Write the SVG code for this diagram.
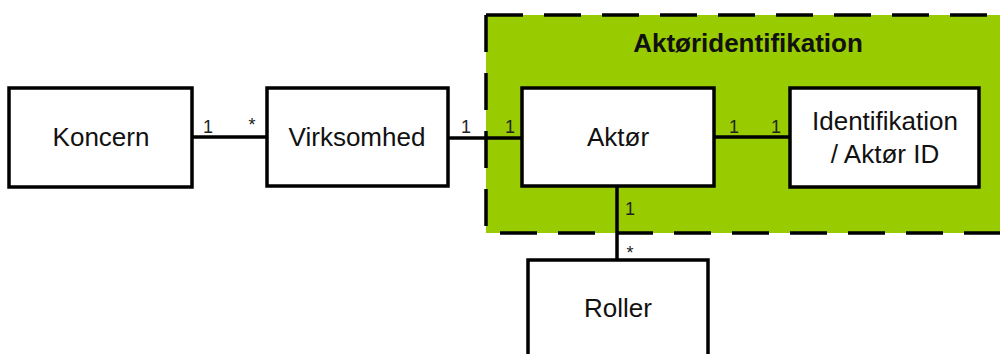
<svg xmlns="http://www.w3.org/2000/svg" width="1000" height="354" viewBox="0 0 1000 354">
<style>
.box{fill:#fff;stroke:#000;stroke-width:3.5}
.lbl{font-family:"Liberation Sans",Arial,sans-serif;font-size:26px;fill:#111;text-anchor:middle}
.m{font-family:"Liberation Sans",Arial,sans-serif;font-size:18px;fill:#222;text-anchor:middle}
.ln{stroke:#000;stroke-width:3.5;fill:none}
</style>
<rect width="1000" height="354" fill="#fff"/>
<g id="group-aktoridentifikation">
<rect x="486" y="15" width="520" height="218" fill="#99cc00"/>
<path d="M486,15 H1006 M486,15 V233 H1006" stroke="#000" stroke-width="3.5" fill="none" stroke-dasharray="37,21"/>
<text x="748" y="52" class="lbl" font-weight="bold">Aktøridentifikation</text>
</g>
<g id="connectors">
<line class="ln" x1="192" y1="137" x2="267" y2="137"/>
<line class="ln" x1="448" y1="138" x2="522" y2="138"/>
<line class="ln" x1="714" y1="137" x2="790" y2="137"/>
<line class="ln" x1="617" y1="186" x2="617" y2="260"/>
<text class="m" x="208" y="133">1</text>
<text class="m" x="252" y="131">*</text>
<text class="m" x="466" y="133">1</text>
<text class="m" x="510" y="133">1</text>
<text class="m" x="734" y="133">1</text>
<text class="m" x="776" y="133">1</text>
<text class="m" x="630" y="215">1</text>
<text class="m" x="630" y="259">*</text>
</g>
<g id="koncern">
<rect class="box" x="9" y="88" width="183" height="99"/>
<text class="lbl" x="101" y="146">Koncern</text>
</g>
<g id="virksomhed">
<rect class="box" x="267" y="88" width="181" height="98"/>
<text class="lbl" x="357" y="146">Virksomhed</text>
</g>
<g id="aktor">
<rect class="box" x="522" y="88" width="192" height="98"/>
<text class="lbl" x="618" y="146">Aktør</text>
</g>
<g id="identifikation">
<rect class="box" x="790" y="88" width="189" height="99"/>
<text class="lbl" x="885" y="130">Identifikation</text>
<text class="lbl" x="885" y="163">/ Aktør ID</text>
</g>
<g id="roller">
<rect class="box" x="528" y="260" width="180" height="110"/>
<text class="lbl" x="618" y="317">Roller</text>
</g>
</svg>
